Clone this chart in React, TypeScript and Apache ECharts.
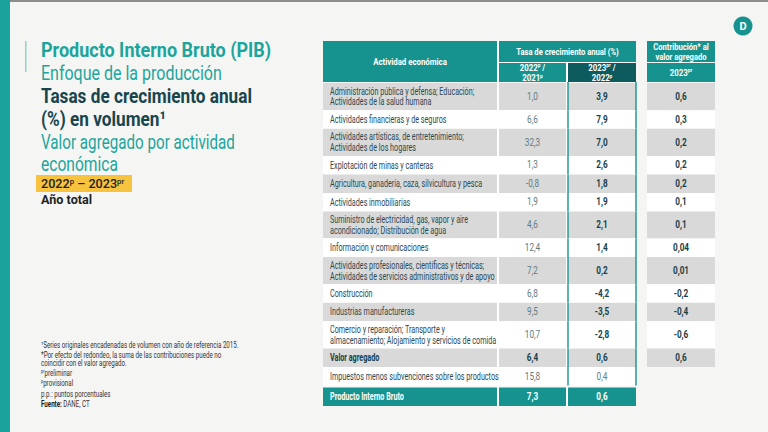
import React, { useEffect, useRef } from "react";
import * as echarts from "echarts";

// ---------- data ----------
const activities: string[] = [
  "Administración pública y defensa; Educación;\nActividades de la salud humana",
  "Actividades financieras y de seguros",
  "Actividades artísticas, de entretenimiento;\nActividades de los hogares",
  "Explotación de minas y canteras",
  "Agricultura, ganadería, caza, silvicultura y pesca",
  "Actividades inmobiliarias",
  "Suministro de electricidad, gas, vapor y aire\nacondicionado; Distribución de agua",
  "Información y comunicaciones",
  "Actividades profesionales, científicas y técnicas;\nActividades de servicios administrativos y de apoyo",
  "Construcción",
  "Industrias manufactureras",
  "Comercio y reparación; Transporte y\nalmacenamiento; Alojamiento y servicios de comida",
  "Valor agregado",
  "Impuestos menos subvenciones sobre los productos",
  "Producto Interno Bruto",
];
const growth2022vs2021: number[] = [1.0, 6.6, 32.3, 1.3, -0.8, 1.9, 4.6, 12.4, 7.2, 6.8, 9.5, 10.7, 6.4, 15.8, 7.3];
const growth2023vs2022: number[] = [3.9, 7.9, 7.0, 2.6, 1.8, 1.9, 2.1, 1.4, 0.2, -4.2, -3.5, -2.8, 0.6, 0.4, 0.6];
const contribution2023: (number | null)[] = [0.6, 0.3, 0.2, 0.2, 0.2, 0.1, 0.1, 0.04, 0.01, -0.2, -0.4, -0.6, 0.6, null, null];

const headerActivity = "Actividad económica";
const headerGrowth = "Tasa de crecimiento anual (%)";
const headerCol1 = "2022{s|p} /\n2021{s|p}";
const headerCol2 = "2023{s|pr} /\n2022{s|p}";
const headerContribution = "Contribución* al\nvalor agregado";
const headerCol3 = "2023{s|pr}";

const titleLines = [
  "Producto Interno Bruto (PIB)",
  "Enfoque de la producción",
  "Tasas de crecimiento anual",
  "(%) en volumen¹",
  "Valor agregado por actividad",
  "económica",
];
const periodLabel = "2022{s|p} – 2023{s|pr}";
const periodSub = "Año total";
const footnotes = [
  "¹Series originales encadenadas de volumen con año de referencia 2015.",
  "*Por efecto del redondeo, la suma de las contribuciones puede no",
  "coincidir con el valor agregado.",
  "{s|pr}preliminar",
  "{s|p}provisional",
  "p.p.: puntos porcentuales",
  "{b|Fuente:} DANE, CT",
];

// ---------- layout / style ----------
const TEAL = "#16938f";
const TEAL_DARK = "#0e5b5d";
const TITLE_TEAL = "#1ca59c";
const DARK = "#18454d";
const GRAY_ROW = "#d9d9d9";
const LABEL_C = "#2b4952";
const VAL_C = "#5c7c82";
const BOLD_C = "#173f48";
const FONT = "Roboto";
const SX = 0.72;
const CELL_FS = 10;

const COLS: [number, number][] = [[0, 174], [176, 243], [245, 313], [324, 392]];
const HEAD1 = 21;
const HEAD2_TOP = 22;
const HEAD_BOTTOM = 41;
const BODY_TOP = 42;
const H1 = 18.5;
const H2 = 27.2;
const GDP_GAP = 2;

const totalRow = activities.indexOf("Valor agregado");
const taxRow = activities.indexOf("Impuestos menos subvenciones sobre los productos");
const gdpRow = activities.indexOf("Producto Interno Bruto");

const rowHeights = activities.map((a) => (a.split("\n").length > 1 ? H2 : H1));
const rowTops: number[] = [];
{
  let y = BODY_TOP;
  activities.forEach((_, i) => {
    if (i === gdpRow) y += GDP_GAP;
    rowTops.push(y);
    y += rowHeights[i];
  });
}
const TABLE_H = rowTops[rowTops.length - 1] + rowHeights[rowHeights.length - 1];

const fmt = (v: number, d = 1) => v.toFixed(d).replace(".", ",");
const fmtC = (v: number) => fmt(v, v !== 0 && Math.abs(v) < 0.1 ? 2 : 1);

const supRich = (size: number, color: string, weight: string | number) => ({
  s: { fontSize: size * 0.62, verticalAlign: "top", fill: color, fontWeight: weight, fontFamily: FONT, lineHeight: size * 0.9 },
});

function renderHeader(params: any, api: any) {
  const children: any[] = [];
  const rect = (x0: number, y0: number, x1: number, y1: number, fill: string) => {
    const p0 = api.coord([x0, y0]);
    const p1 = api.coord([x1, y1]);
    return { type: "rect", shape: { x: p0[0], y: p0[1], width: p1[0] - p0[0], height: p1[1] - p0[1] }, style: { fill } };
  };
  const text = (cx: number, cy: number, t: string, sx = 0.8) => {
    const p = api.coord([cx, cy]);
    return {
      type: "text",
      x: p[0],
      y: p[1],
      scaleX: sx,
      style: {
        text: t,
        fill: "#ffffff",
        fontSize: 9.8,
        fontWeight: "bold",
        fontFamily: FONT,
        lineHeight: 10.5,
        align: "center",
        verticalAlign: "middle",
        rich: { ...supRich(9.8, "#ffffff", "bold") },
      },
    };
  };
  children.push(rect(COLS[0][0], 0, COLS[2][1], HEAD_BOTTOM, "#ffffff"));
  children.push(rect(COLS[0][0], 0, COLS[0][1], HEAD_BOTTOM, TEAL));
  children.push(rect(COLS[1][0], 0, COLS[2][1], HEAD1, TEAL));
  children.push(rect(COLS[1][0], HEAD2_TOP, COLS[1][1], HEAD_BOTTOM, TEAL));
  children.push(rect(COLS[2][0], HEAD2_TOP, COLS[2][1], HEAD_BOTTOM, TEAL_DARK));
  children.push(rect(COLS[3][0], 0, COLS[3][1], HEAD1, TEAL));
  children.push(rect(COLS[3][0], HEAD2_TOP, COLS[3][1], HEAD_BOTTOM, TEAL));
  children.push(text((COLS[0][0] + COLS[0][1]) / 2, HEAD_BOTTOM / 2, headerActivity));
  children.push(text((COLS[1][0] + COLS[2][1]) / 2, HEAD1 / 2, headerGrowth, 0.78));
  children.push(text((COLS[1][0] + COLS[1][1]) / 2, (HEAD2_TOP + HEAD_BOTTOM) / 2, headerCol1));
  children.push(text((COLS[2][0] + COLS[2][1]) / 2, (HEAD2_TOP + HEAD_BOTTOM) / 2, headerCol2));
  children.push(text((COLS[3][0] + COLS[3][1]) / 2, HEAD1 / 2, headerContribution, 0.78));
  children.push(text((COLS[3][0] + COLS[3][1]) / 2, (HEAD2_TOP + HEAD_BOTTOM) / 2, headerCol3));
  return { type: "group", children };
}

function renderRow(params: any, api: any) {
  const i = api.value(0);
  const top = rowTops[i];
  const bottom = top + rowHeights[i];
  const mid = (top + bottom) / 2;
  const gray = i % 2 === 0;
  const isGdp = i === gdpRow;
  const isTotal = i === totalRow;
  const isTax = i === taxRow;
  const children: any[] = [];
  const rect = (x0: number, y0: number, x1: number, y1: number, fill: string) => {
    const p0 = api.coord([x0, y0]);
    const p1 = api.coord([x1, y1]);
    return { type: "rect", shape: { x: p0[0], y: p0[1], width: p1[0] - p0[0], height: p1[1] - p0[1] }, style: { fill } };
  };
  const text = (x: number, t: string, fill: string, bold: boolean, align: string, sx: number) => {
    const p = api.coord([x, mid]);
    return {
      type: "text",
      x: p[0],
      y: p[1],
      scaleX: sx,
      style: {
        text: t,
        fill,
        fontSize: CELL_FS,
        fontWeight: bold ? "bold" : "normal",
        fontFamily: FONT,
        lineHeight: 10.8,
        align,
        verticalAlign: "middle",
      },
    };
  };
  const cellFill = isGdp ? TEAL : gray ? GRAY_ROW : "#ffffff";
  children.push(rect(COLS[0][0], top, COLS[2][1], bottom, "#ffffff"));
  for (let c = 0; c < 3; c++) children.push(rect(COLS[c][0], top, COLS[c][1], bottom, cellFill));
  const c3 = contribution2023[i];
  if (c3 !== null && c3 !== undefined) {
    children.push(rect(COLS[3][0], top, COLS[3][1], bottom, cellFill));
  }
  const labelFill = isGdp ? "#ffffff" : isTotal ? BOLD_C : LABEL_C;
  children.push(text(COLS[0][0] + 7, activities[i], labelFill, isGdp || isTotal, "left", SX));
  const v1Fill = isGdp ? "#ffffff" : isTotal ? BOLD_C : VAL_C;
  children.push(text((COLS[1][0] + COLS[1][1]) / 2, fmt(growth2022vs2021[i]), v1Fill, isGdp || isTotal, "center", 0.82));
  const v2Fill = isGdp ? "#ffffff" : isTax ? VAL_C : BOLD_C;
  children.push(text((COLS[2][0] + COLS[2][1]) / 2, fmt(growth2023vs2022[i]), v2Fill, !isTax, "center", 0.82));
  if (c3 !== null && c3 !== undefined) {
    children.push(text((COLS[3][0] + COLS[3][1]) / 2, fmtC(c3), BOLD_C, true, "center", 0.82));
  }
  if (!isGdp) {
    const yTop = i === 0 ? HEAD_BOTTOM : top;
    [COLS[2][0], COLS[2][1]].forEach((x) => {
      const a = api.coord([x, yTop]);
      const b = api.coord([x, bottom]);
      children.push({ type: "line", shape: { x1: a[0], y1: a[1], x2: b[0], y2: b[1] }, style: { stroke: TEAL, lineWidth: 1.4 } });
    });
  }
  return { type: "group", children };
}

function gText(x: number, y: number, text: string, size: number, fill: string, weight: string | number, sx = 1, extraRich: any = {}) {
  return {
    type: "text",
    x,
    y,
    scaleX: sx,
    style: {
      text,
      fontSize: size,
      fontWeight: weight,
      fontFamily: FONT,
      fill,
      align: "left",
      textAlign: "left",
      verticalAlign: "middle",
      textVerticalAlign: "middle",
      rich: { ...supRich(size, fill, weight), ...extraRich },
    },
  };
}

function buildOption(): any {
  const titleY = [50, 73, 97, 120, 142, 164];
  const titleStyles: [string, string | number, number][] = [
    [TITLE_TEAL, "bold", 0.9],
    [TITLE_TEAL, "normal", 0.8],
    [DARK, "bold", 0.86],
    [DARK, "bold", 0.86],
    [TITLE_TEAL, "normal", 0.76],
    [TITLE_TEAL, "normal", 0.78],
  ];
  const noteY = [345, 355, 363, 373, 383, 394, 404];
  const graphic: any[] = [
    { type: "rect", x: 0, y: 0, shape: { width: 10, height: 432 }, style: { fill: "#1aa39d" } },
    { type: "rect", x: 10, y: 0, shape: { width: 758, height: 2 }, style: { fill: "#8c8c8c" } },
    { type: "rect", x: 25, y: 41, shape: { width: 1.5, height: 31 }, style: { fill: "#8fd4c9" } },
    ...titleLines.map((t, k) => gText(41, titleY[k], t, 20, titleStyles[k][0], titleStyles[k][1], titleStyles[k][2])),
    { type: "rect", x: 36, y: 175, shape: { width: 96, height: 17 }, style: { fill: "#f7c33e" } },
    gText(41, 183.5, periodLabel, 13, "#222222", 500, 0.97),
    gText(41, 199, periodSub, 13, "#222222", "bold", 0.97),
    ...footnotes.map((t, k) =>
      gText(41, noteY[k], t, 8.6, "#333333", "normal", 0.72, {
        b: { fontSize: 8.6, fontWeight: "bold", fill: "#222222", fontFamily: FONT },
      })
    ),
    { type: "circle", shape: { cx: 743, cy: 26, r: 9.5 }, style: { fill: TEAL } },
    {
      type: "text",
      x: 743,
      y: 26.5,
      style: { text: "D", fontSize: 11, fontWeight: "bold", fontFamily: FONT, fill: "#ffffff", align: "center", textAlign: "center", verticalAlign: "middle", textVerticalAlign: "middle" },
    },
  ];

  return {
    animation: false,
    backgroundColor: "#f5f5f4",
    grid: { left: 323, top: 41, width: COLS[3][1], height: TABLE_H, containLabel: false },
    xAxis: { type: "value", min: 0, max: COLS[3][1], show: false },
    yAxis: { type: "value", min: 0, max: TABLE_H, inverse: true, show: false },
    graphic,
    series: [
      {
        type: "custom",
        name: "header",
        coordinateSystem: "cartesian2d",
        clip: false,
        silent: true,
        data: [[0, 0]],
        renderItem: renderHeader,
      },
      {
        type: "custom",
        name: "rows",
        coordinateSystem: "cartesian2d",
        clip: false,
        silent: true,
        data: activities.map((_, i) => [i, rowTops[i]]),
        renderItem: renderRow,
      },
    ],
  };
}

export default function App() {
  const ref = useRef<HTMLDivElement>(null);
  useEffect(() => {
    if (!ref.current) return;
    const chart = echarts.init(ref.current, null, { renderer: "svg" });
    chart.setOption(buildOption());
    return () => chart.dispose();
  }, []);
  return <div ref={ref} style={{ position: "fixed", left: 0, top: 0, width: 768, height: 432 }} />;
}
